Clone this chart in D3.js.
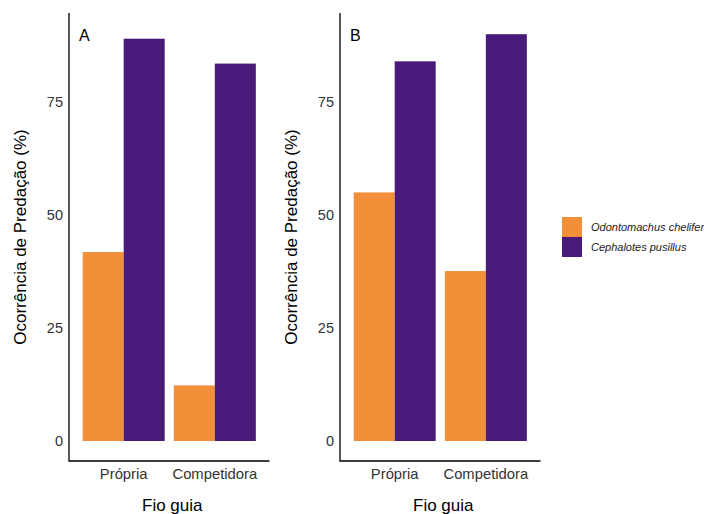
<!DOCTYPE html>
<html>
<head>
<meta charset="utf-8">
<script src="https://cdn.jsdelivr.net/npm/d3@7"></script>
<style>
  body { margin: 0; background: #fff; }
  text { font-family: "Liberation Sans", Arial, sans-serif; }
</style>
</head>
<body>
<div id="chart"></div>
<script>
const width = 704;
const height = 514;

// data
const groups = ["Própria", "Competidora"];
const species = ["Odontomachus chelifer", "Cephalotes pusillus"];
const colors = ["#F2903A", "#4A1A7B"];
const panelLabels = ["A", "B"];
const panelA = [[41.8, 89.0], [12.3, 83.5]];   // [orange, purple] per group
const panelB = [[55.0, 84.0], [37.6, 90.0]];
const panelData = [panelA, panelB];
const yTicks = [0, 25, 50, 75];

const plotTop = 13, plotBottom = 461;
const panelX = [[69, 269.5], [340, 540.5]];

const svg = d3.select("#chart").append("svg")
    .attr("width", width)
    .attr("height", height);

const y = d3.scaleLinear().domain([0, 75]).range([441, 102]);

panelData.forEach((data, p) => {
    const [x0, x1] = panelX[p];
    const g = svg.append("g");

    const x = d3.scalePoint().domain(groups).range([x0, x1]).padding(0.6);
    const step = x.step();
    const sub = d3.scaleBand().domain(d3.range(species.length))
        .range([-step * 0.45, step * 0.45]);

    // bars
    groups.forEach((grp, i) => {
        data[i].forEach((v, s) => {
            g.append("rect")
                .attr("x", x(grp) + sub(s))
                .attr("width", sub.bandwidth())
                .attr("y", y(v))
                .attr("height", y(0) - y(v))
                .attr("fill", colors[s]);
        });
    });

    // axis lines
    g.append("path")
        .attr("d", `M${x0},${plotTop}V${plotBottom}H${x1}`)
        .attr("fill", "none")
        .attr("stroke", "#000")
        .attr("stroke-width", 1.3);

    // y tick labels
    g.selectAll(".ytick").data(yTicks).enter().append("text")
        .attr("x", x0 - 6)
        .attr("y", d => y(d))
        .attr("dy", "0.35em")
        .attr("text-anchor", "end")
        .attr("font-size", 14.5)
        .attr("fill", "#333")
        .text(d => d);

    // x tick labels
    g.selectAll(".xtick").data(groups).enter().append("text")
        .attr("x", d => x(d))
        .attr("y", 479)
        .attr("text-anchor", "middle")
        .attr("font-size", 14.8)
        .attr("fill", "#333")
        .text(d => d);

    // axis titles
    g.append("text")
        .attr("x", (x0 + x1) / 2 + 3)
        .attr("y", 511)
        .attr("text-anchor", "middle")
        .attr("font-size", 17)
        .text("Fio guia");

    g.append("text")
        .attr("transform", `translate(${x0 - 43},237) rotate(-90)`)
        .attr("text-anchor", "middle")
        .attr("font-size", 17)
        .text("Ocorrência de Predação (%)");

    // panel tag
    g.append("text")
        .attr("x", x0 + 10)
        .attr("y", 41)
        .attr("font-size", 16)
        .text(panelLabels[p]);
});

// legend
const legend = svg.append("g").attr("transform", "translate(562,217)");
species.forEach((s, i) => {
    legend.append("rect")
        .attr("x", 0)
        .attr("y", i * 20)
        .attr("width", 20)
        .attr("height", 20)
        .attr("fill", colors[i]);
    legend.append("text")
        .attr("x", 29)
        .attr("y", i * 20 + 10)
        .attr("dy", "0.35em")
        .attr("font-size", 11)
        .attr("font-style", "italic")
        .attr("fill", "#222")
        .text(s);
});
</script>
</body>
</html>
